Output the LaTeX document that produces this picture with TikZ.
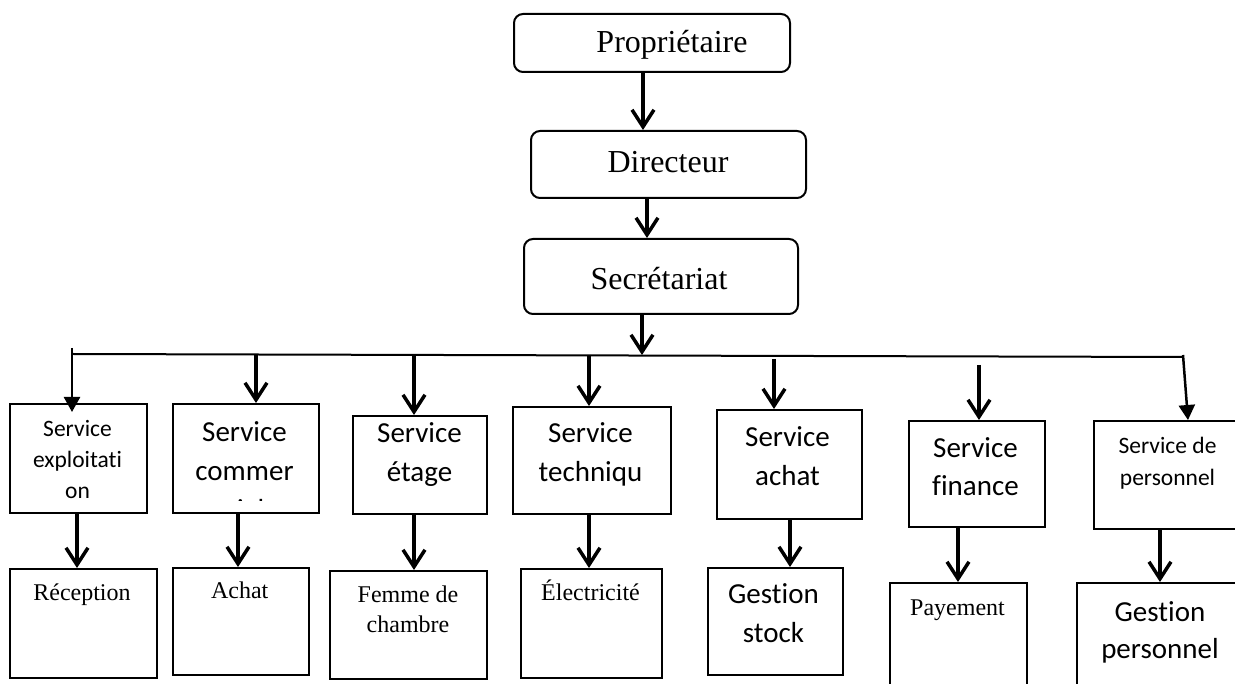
\documentclass[tikz,border=0pt]{standalone}
\usepackage{fontspec}
\setmainfont{Liberation Serif}
\newfontfamily\calibri[Ligatures=CommonOff]{Carlito}
\usetikzlibrary{arrows.meta}
% centred stack of lines whose reference point is the first baseline
\newcommand{\stk}[1]{\begin{tabular}[t]{@{}c@{}}#1\end{tabular}}

\begin{document}
\begin{tikzpicture}[x=1pt,y=-1pt,
  frame/.style={draw, line width=2pt, rectangle, anchor=north west, inner sep=0pt},
  rframe/.style={frame, rounded corners=9pt},
  lbl/.style={anchor=base, inner sep=0pt},
  serifbig/.style={lbl, font=\fontsize{32}{38}\selectfont},
  serifsmall/.style={lbl, font=\fontsize{24}{30}\selectfont},
  sansbig/.style={lbl, font=\calibri\fontsize{29}{39}\selectfont},
  sanssmall/.style={lbl, font=\calibri\fontsize{23.5}{31}\selectfont},
  arr/.style={line width=3.5pt, -{Straight Barb[length=17pt,width=22pt]}},
  tri/.style={line width=2.5pt, -{Triangle[length=15pt,width=16pt]}},
  bus/.style={line width=2pt}]

\useasboundingbox (0,0) rectangle (1235,684);
\fill[white] (0,0) rectangle (1235,684);
\clip (0,0) rectangle (1235,684);

% ---- management chain ----
\node[rframe, minimum width=276pt, minimum height=58pt] (p) at (513,13) {};
\node[rframe, minimum width=275pt, minimum height=67pt] (d) at (530,130) {};
\node[rframe, minimum width=274pt, minimum height=75pt] (sec) at (523,238) {};
\node[serifbig] (tp) at (672,53) {Propriétaire};
\node[serifbig] (td) at (668,173) {Directeur};
\node[serifbig] (tsec) at (659,290) {Secrétariat};

\coordinate (xa) at (643,0);
\coordinate (xb) at (647,0);
\draw[arr] (p.south -| xa) -- (d.north -| xa);
\draw[arr] (d.south -| xb) -- (sec.north -| xb);

% ---- distribution line ----
\coordinate (busL) at (73,354);
\coordinate (busR) at (1183,357);
\coordinate (j0) at (642,355);
\draw[bus] (busL) -- (busR);
\draw[arr] (sec.south -| j0) -- (j0);

% ---- services ----
\node[frame, minimum width=137pt, minimum height=109pt] (s1) at (9,403) {};
\node[frame, minimum width=146pt, minimum height=109pt] (s2) at (172,403) {};
\node[frame, minimum width=134pt, minimum height=98pt] (s3) at (352,415) {};
\node[frame, minimum width=158pt, minimum height=107pt] (s4) at (512,406) {};
\node[frame, minimum width=145pt, minimum height=109pt] (s5) at (716,409) {};
\node[frame, minimum width=136pt, minimum height=106pt] (s6) at (908,420) {};
\node[frame, minimum width=152pt, minimum height=108pt] (s7) at (1093,420) {};

\node[sanssmall] (t1) at (77.5,437) {\stk{Service\\exploitati\\on}};
\begin{scope}
  \clip (172,403) rectangle (318,501);
  \node[sansbig] (t2) at (244.5,442) {\stk{Service\\commer\\cial}};
\end{scope}
\node[sansbig] (t3) at (419.5,443) {\stk{Service\\étage}};
\node[sansbig] (t4) at (590.5,443) {\stk{Service\\techniqu}};
\node[sansbig] (t5) at (787.5,447) {\stk{Service\\achat}};
\node[sansbig, font=\calibri\fontsize{29}{38}\selectfont] (t6) at (975.5,458) {\stk{Service\\finance}};
\node[sanssmall, font=\calibri\fontsize{23.5}{32}\selectfont] (t7) at (1167.5,454) {\stk{Service de\\personnel}};

% drops from the distribution line
\coordinate (a1) at (72,348);
\coordinate (a2) at (256,355);
\coordinate (a3) at (414,355);
\coordinate (a4) at (589,355);
\coordinate (a5) at (774,359);
\coordinate (a6) at (979,365);
\coordinate (a7) at (1183,355);
\coordinate (e7) at (1188,420);
\draw[tri, shorten >=-9pt] (a1) -- (s1.north -| a1);
\draw[arr] (a2) -- (s2.north -| a2);
\draw[arr] (a3) -- (s3.north -| a3);
\draw[arr] (a4) -- (s4.north -| a4);
\draw[arr] (a5) -- (s5.north -| a5);
\draw[arr] (a6) -- (s6.north -| a6);
\draw[tri] (a7) -- (e7);

% ---- units ----
\node[frame, minimum width=147pt, minimum height=109pt] (r1) at (9,568) {};
\node[frame, minimum width=136pt, minimum height=107pt] (r2) at (172,567) {};
\node[frame, minimum width=157pt, minimum height=108pt] (r3) at (329,570) {};
\node[frame, minimum width=141pt, minimum height=109pt] (r4) at (520,568) {};
\node[frame, minimum width=135pt, minimum height=107pt] (r5) at (707,567) {};
\node[frame, minimum width=137pt, minimum height=120pt] (r6) at (889,582) {};
\node[frame, minimum width=172pt, minimum height=120pt] (r7) at (1076,582) {};

\node[serifsmall] (u1) at (82,600) {Réception};
\node[serifsmall] (u2) at (239.7,598) {Achat};
\node[serifsmall] (u3) at (408,602) {\stk{Femme de\\chambre}};
\node[serifsmall] (u4) at (590.5,600) {Électricité};
\node[sansbig] (u5) at (773.5,603) {\stk{Gestion\\stock}};
\node[serifsmall] (u6) at (957.5,615) {Payement};
\node[sansbig, font=\calibri\fontsize{29}{37}\selectfont] (u7) at (1160,621) {\stk{Gestion\\personnel}};

\coordinate (x1) at (77,0);
\coordinate (x2) at (238,0);
\coordinate (x3) at (414,0);
\coordinate (x4) at (589,0);
\coordinate (x5) at (790,0);
\coordinate (x6) at (958,0);
\coordinate (x7) at (1160,0);
\draw[arr] (s1.south -| x1) -- (r1.north -| x1);
\draw[arr] (s2.south -| x2) -- (r2.north -| x2);
\draw[arr] (s3.south -| x3) -- (r3.north -| x3);
\draw[arr] (s4.south -| x4) -- (r4.north -| x4);
\draw[arr] (s5.south -| x5) -- (r5.north -| x5);
\draw[arr] (s6.south -| x6) -- (r6.north -| x6);
\draw[arr] (s7.south -| x7) -- (r7.north -| x7);
\end{tikzpicture}
\end{document}
